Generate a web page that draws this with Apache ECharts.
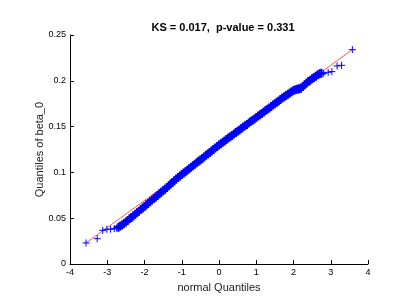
<!DOCTYPE html>
<html>
<head>
<meta charset="utf-8">
<script src="https://cdn.jsdelivr.net/npm/echarts@6/dist/echarts.min.js"></script>
<style>html,body{margin:0;padding:0;background:#fff;}#c{width:406px;height:304px;}</style>
</head>
<body>
<div id="c"></div>
<script>
var titleText = 'KS = 0.017,  p-value = 0.331';
var xName = 'normal Quantiles';
var yName = 'Quantiles of beta_0';
var xTicks = [-4, -3, -2, -1, 0, 1, 2, 3, 4];
var yTicks = [0, 0.05, 0.1, 0.15, 0.2, 0.25];

var qVals = [-3.57, -3.27, -3.12, -3.01, -2.91, -2.81, -2.75,
  -2.70, -2.65, -2.60, -2.55, -2.50, -2.45, -2.40, -2.35, -2.30, -2.25,
  -2.20, -2.15, -2.10, -2.05, -2.00, -1.95, -1.90, -1.85, -1.80, -1.75,
  -1.70, -1.65, -1.60, -1.55, -1.50, -1.45, -1.40, -1.35, -1.30, -1.25,
  -1.20, -1.15, -1.10, -1.05, -1.00, -0.95, -0.90, -0.85, -0.80, -0.75,
  -0.70, -0.65, -0.60, -0.55, -0.50, -0.45, -0.40, -0.35, -0.30, -0.25,
  -0.20, -0.15, -0.10, -0.05, 0.00, 0.05, 0.10, 0.15, 0.20, 0.25,
  0.30, 0.35, 0.40, 0.45, 0.50, 0.55, 0.60, 0.65, 0.70, 0.75,
  0.80, 0.85, 0.90, 0.95, 1.00, 1.05, 1.10, 1.15, 1.20, 1.25,
  1.30, 1.35, 1.40, 1.45, 1.50, 1.55, 1.60, 1.65, 1.70, 1.75,
  1.80, 1.85, 1.90, 1.95, 2.00, 2.05, 2.10, 2.15, 2.20, 2.25,
  2.30, 2.35, 2.40, 2.45, 2.50, 2.55, 2.60, 2.65, 2.70, 2.75,
  2.81, 2.93, 3.03, 3.17, 3.29, 3.58];
var vVals = [0.0230, 0.0276, 0.0367, 0.0379, 0.0380, 0.0386, 0.0393,
  0.0402, 0.0414, 0.0427, 0.0443, 0.0459, 0.0476, 0.0493, 0.0509, 0.0525, 0.0542,
  0.0560, 0.0577, 0.0594, 0.0611, 0.0629, 0.0646, 0.0663, 0.0680, 0.0698, 0.0715,
  0.0731, 0.0749, 0.0766, 0.0783, 0.0800, 0.0817, 0.0836, 0.0854, 0.0872, 0.0890,
  0.0909, 0.0927, 0.0944, 0.0960, 0.0977, 0.0993, 0.1008, 0.1024, 0.1040, 0.1057,
  0.1072, 0.1088, 0.1105, 0.1121, 0.1136, 0.1153, 0.1169, 0.1186, 0.1202, 0.1218,
  0.1234, 0.1251, 0.1267, 0.1283, 0.1299, 0.1314, 0.1330, 0.1344, 0.1359, 0.1375,
  0.1390, 0.1404, 0.1419, 0.1435, 0.1450, 0.1464, 0.1479, 0.1495, 0.1510, 0.1524,
  0.1540, 0.1555, 0.1570, 0.1584, 0.1600, 0.1615, 0.1630, 0.1644, 0.1660, 0.1675,
  0.1690, 0.1704, 0.1720, 0.1735, 0.1750, 0.1765, 0.1780, 0.1795, 0.1811, 0.1825,
  0.1839, 0.1853, 0.1867, 0.1880, 0.1894, 0.1903, 0.1909, 0.1913, 0.1919, 0.1938,
  0.1957, 0.1976, 0.1992, 0.2007, 0.2022, 0.2036, 0.2051, 0.2066, 0.2078, 0.2082,
  0.2082, 0.2093, 0.2100, 0.2162, 0.2169, 0.2340];

// reference line end points
var lineX = [-3.57, 3.58];
var lineY = [0.023, 0.234];

var bandStart = 7, bandEnd = qVals.length - 7;
var pts = qVals.map(function (q, i) {
  var item = {value: [q, vVals[i]]};
  if (i >= bandStart && i <= bandEnd) {
    item.symbolSize = 9;
    item.itemStyle = {borderWidth: 2.2};
  }
  return item;
});
var refLine = lineX.map(function (x, i) { return [x, lineY[i]]; });

var chart = echarts.init(document.getElementById('c'), null, {renderer: 'canvas'});
var fontF = 'Arial, "Liberation Sans", Helvetica, sans-serif';
chart.setOption({
  animation: false,
  backgroundColor: '#ffffff',
  title: {
    text: titleText,
    left: 218,
    top: 17,
    textAlign: 'center',
    textStyle: {fontFamily: fontF, fontSize: 11, fontWeight: 'bold', color: '#000'}
  },
  grid: {left: 70, right: 38, top: 35, bottom: 40, containLabel: false},
  xAxis: {
    type: 'value',
    min: xTicks[0], max: xTicks[xTicks.length - 1], interval: 1,
    name: xName, nameLocation: 'middle', nameGap: 18,
    nameMoveOverlap: false,
    nameTextStyle: {fontFamily: fontF, fontSize: 11, color: '#222'},
    axisLine: {show: true, onZero: false, lineStyle: {color: '#000', width: 1}},
    axisTick: {show: true, inside: true, length: 4, lineStyle: {color: '#000'}},
    axisLabel: {fontFamily: fontF, fontSize: 9, color: '#000', margin: 4},
    splitLine: {show: false}
  },
  yAxis: {
    type: 'value',
    min: yTicks[0], max: yTicks[yTicks.length - 1], interval: 0.05,
    name: yName, nameLocation: 'middle', nameGap: 25, nameRotate: 90,
    nameMoveOverlap: false,
    nameTextStyle: {fontFamily: fontF, fontSize: 11, color: '#222'},
    axisLine: {show: true, onZero: false, lineStyle: {color: '#000', width: 1}},
    axisTick: {show: true, inside: true, length: 4, lineStyle: {color: '#000'}},
    axisLabel: {fontFamily: fontF, fontSize: 9, color: '#000', margin: 4},
    splitLine: {show: false}
  },
  series: [
    {
      type: 'line',
      data: refLine,
      symbol: 'none',
      lineStyle: {color: '#ff5555', width: 1},
      z: 1,
      silent: true
    },
    {
      type: 'scatter',
      data: pts,
      symbol: 'path://M0,5L10,5M5,0L5,10',
      symbolSize: 7,
      itemStyle: {color: 'none', borderColor: '#0000ff', borderWidth: 1, opacity: 1},
      z: 2,
      silent: true
    }
  ]
});
</script>
</body>
</html>
